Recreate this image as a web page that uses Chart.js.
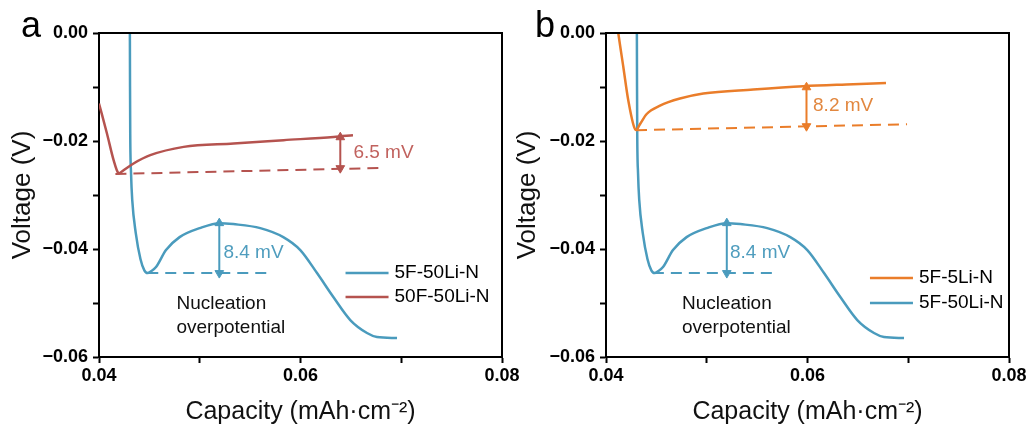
<!DOCTYPE html>
<html>
<head>
<meta charset="utf-8">
<script src="https://cdn.jsdelivr.net/npm/chart.js@4.4.0/dist/chart.umd.min.js"></script>
<style>
  html, body { margin: 0; padding: 0; background: #fff; }
  #wrap { position: relative; width: 1032px; height: 432px; overflow: hidden; }
  canvas { position: absolute; top: 0; }
</style>
</head>
<body>
<div id="wrap">
  <canvas id="chartA" width="532" height="432" style="left:0"></canvas>
  <canvas id="chartB" width="532" height="432" style="left:500px"></canvas>
</div>
<script>
// Voltage profiles (capacity in mAh/cm2, voltage in V)
const blueCap  = [0.04306, 0.04308, 0.04310, 0.04318, 0.04330, 0.04365, 0.04412, 0.04450, 0.04482,
                  0.04515, 0.04566, 0.04665, 0.04800, 0.05000, 0.05200, 0.05333, 0.05601, 0.05829,
                  0.05998, 0.06164, 0.06326, 0.06494, 0.06660, 0.06759, 0.06958];
const blueVolt = [0.00300, -0.01000, -0.01856, -0.02596, -0.03095, -0.03706, -0.04190, -0.04395, -0.04446,
                  -0.04415, -0.04335, -0.04020, -0.03780, -0.03613, -0.03521, -0.03539, -0.03613, -0.03780,
                  -0.04020, -0.04446, -0.04890, -0.05316, -0.05556, -0.05630, -0.05649];

const redCap   = [0.04000, 0.04079, 0.04145, 0.04190, 0.04200, 0.04244, 0.04343, 0.04509, 0.04840,
                  0.05336, 0.05832, 0.06329, 0.06521];
const redVolt  = [-0.01306, -0.01861, -0.02355, -0.02590, -0.02598, -0.02540, -0.02416, -0.02263, -0.02109,
                  -0.02046, -0.01985, -0.01924, -0.01893];

const orangeCap  = [0.04115, 0.04122, 0.04172, 0.04221, 0.04292, 0.04300, 0.04337, 0.04404, 0.04536,
                    0.04734, 0.04966, 0.05462, 0.05958, 0.06455, 0.06779];
const orangeVolt = [0.00100, 0.00000, -0.00629, -0.01245, -0.01790, -0.01795, -0.01690, -0.01500, -0.01345,
                    -0.01214, -0.01121, -0.01047, -0.00986, -0.00949, -0.00925];

// guide lines: [x1, y1, x2, y2]
const redBase    = [0.04163, -0.02610, 0.06822, -0.02499];
const orangeBase = [0.04298, -0.01800, 0.06988, -0.01689];
const blueBaseA  = [0.04479, -0.04446, 0.05670, -0.04446];
const blueBaseB  = [0.04465, -0.04446, 0.05677, -0.04446];
// arrows: [x, top, bottom]
const redArrow    = [0.06395, -0.01930, -0.02503];
const orangeArrow = [0.05990, -0.01005, -0.01726];
const blueArrowA  = [0.05194, -0.03521, -0.04446];
const blueArrowB  = [0.05199, -0.03521, -0.04446];

const xRange = [0.04, 0.08];
const yRange = [-0.06, 0];

const BLUE = '#4a9bbd', RED = '#b5534f', ORANGE = '#ea7d2a';
const FONT = '"Liberation Sans", Arial, sans-serif';

function pts(xs, ys) {
  return xs.map((x, i) => ({ x: x, y: ys[i] }));
}

function curve(label, xs, ys, color) {
  return {
    label: label, data: pts(xs, ys), borderColor: color, borderWidth: 2.5,
    pointRadius: 0, cubicInterpolationMode: 'monotone', fill: false
  };
}

function dashed(seg, color) {
  return {
    data: [{ x: seg[0], y: seg[1] }, { x: seg[2], y: seg[3] }],
    borderColor: color, borderWidth: 2, borderDash: [11, 7], pointRadius: 0, fill: false
  };
}

function arrow(a, color) {
  return {
    data: [{ x: a[0], y: a[1] }, { x: a[0], y: a[2] }],
    borderColor: color, borderWidth: 2, pointStyle: 'triangle', pointRadius: 5,
    pointRotation: [0, 180], pointBackgroundColor: color, pointBorderColor: color,
    pointBorderWidth: 1, fill: false
  };
}

// frame, panel letter, notes and legend
const decor = {
  id: 'decor',
  afterDraw(chart, args, opts) {
    const { ctx, chartArea: a, scales: { x, y } } = chart;
    ctx.save();
    ctx.strokeStyle = '#000';
    ctx.lineWidth = 2;
    ctx.beginPath();
    ctx.moveTo(a.left, a.top);
    ctx.lineTo(a.right, a.top);
    ctx.lineTo(a.right, a.bottom);
    ctx.stroke();

    ctx.fillStyle = '#000';
    ctx.font = '36px ' + FONT;
    ctx.textAlign = 'center';
    ctx.textBaseline = 'alphabetic';
    ctx.fillText(opts.letter, opts.letterX, 37);

    ctx.textAlign = 'left';
    ctx.textBaseline = 'middle';
    ctx.font = '19px ' + FONT;
    opts.notes.forEach(n => {
      ctx.fillStyle = n.color;
      ctx.fillText(n.text, x.getPixelForValue(n.x), y.getPixelForValue(n.y));
    });

    const lx = x.getPixelForValue(opts.legendAt[0]);
    const ly = y.getPixelForValue(opts.legendAt[1]);
    opts.legend.forEach((item, i) => {
      const py = ly + i * opts.legendGap;
      ctx.strokeStyle = item.color;
      ctx.lineWidth = 2.5;
      ctx.beginPath();
      ctx.moveTo(lx, py);
      ctx.lineTo(lx + 43, py);
      ctx.stroke();
      ctx.fillStyle = '#000';
      ctx.fillText(item.label, lx + 49, py);
    });
    ctx.restore();
  }
};

function makePanel(id, datasets, p) {
  return new Chart(document.getElementById(id).getContext('2d'), {
    type: 'line',
    data: { datasets: datasets },
    plugins: [decor],
    options: {
      responsive: false,
      animation: false,
      devicePixelRatio: 1,
      layout: { padding: { top: 33, right: p.rightPad, bottom: 0, left: 0 } },
      plugins: {
        legend: { display: false },
        tooltip: { enabled: false },
        decor: p.decor
      },
      scales: {
        x: {
          type: 'linear', min: xRange[0], max: xRange[1],
          afterFit: s => { s.height = 75; },
          border: { color: '#000', width: 2 },
          grid: { drawOnChartArea: false, tickLength: 6, tickColor: '#000', tickWidth: 2 },
          ticks: {
            stepSize: 0.01, padding: 2, color: '#000', maxRotation: 0,
            font: { family: FONT, size: 18, weight: 'bold' },
            callback: v => (Math.round(v * 100) % 2 === 0 ? v.toFixed(2) : '')
          },
          title: {
            display: true, text: 'Capacity (mAh·cm⁻²)', color: '#111',
            font: { family: FONT, size: 25 }, padding: { top: 0, bottom: 5 }
          }
        },
        y: {
          min: yRange[0], max: yRange[1],
          afterFit: s => { s.width = p.yWidth; },
          border: { color: '#000', width: 2 },
          grid: { drawOnChartArea: false, tickLength: 6, tickColor: '#000', tickWidth: 2 },
          ticks: {
            stepSize: 0.01, padding: 5, color: '#000',
            font: { family: FONT, size: 18, weight: 'bold' },
            callback: v => {
              const k = Math.round(v * 100);
              if (k % 2 !== 0) return '';
              return k === 0 ? '0.00' : '\u2212' + Math.abs(v).toFixed(2);
            }
          },
          title: {
            display: true, text: 'Voltage (V)', color: '#111',
            font: { family: FONT, size: 26 }, padding: { top: p.yTitlePad, bottom: 0 }
          }
        }
      }
    }
  });
}

makePanel('chartA', [
  arrow(blueArrowA, BLUE),
  arrow(redArrow, RED),
  dashed(blueBaseA, BLUE),
  dashed(redBase, RED),
  curve('50F-50Li-N', redCap, redVolt, RED),
  curve('5F-50Li-N', blueCap, blueVolt, BLUE)
], {
  rightPad: 30, yWidth: 99, yTitlePad: 7,
  decor: {
    letter: 'a', letterX: 31,
    legendAt: [0.06447, -0.04446], legendGap: 24,
    legend: [{ label: '5F-50Li-N', color: BLUE }, { label: '50F-50Li-N', color: RED }],
    notes: [
      { text: '6.5 mV', x: 0.06525, y: -0.02226, color: '#c1625e' },
      { text: '8.4 mV', x: 0.05235, y: -0.04076, color: '#4f9dbe' },
      { text: 'Nucleation', x: 0.04769, y: -0.05020, color: '#111' },
      { text: 'overpotential', x: 0.04769, y: -0.05464, color: '#111' }
    ]
  }
});

makePanel('chartB', [
  arrow(blueArrowB, BLUE),
  arrow(orangeArrow, ORANGE),
  dashed(blueBaseB, BLUE),
  dashed(orangeBase, ORANGE),
  curve('5F-5Li-N', orangeCap, orangeVolt, ORANGE),
  curve('5F-50Li-N', blueCap, blueVolt, BLUE)
], {
  rightPad: 23, yWidth: 106, yTitlePad: 12,
  decor: {
    letter: 'b', letterX: 45,
    legendAt: [0.06620, -0.04539], legendGap: 25,
    legend: [{ label: '5F-5Li-N', color: ORANGE }, { label: '5F-50Li-N', color: BLUE }],
    notes: [
      { text: '8.2 mV', x: 0.06055, y: -0.01356, color: '#e2873f' },
      { text: '8.4 mV', x: 0.05231, y: -0.04076, color: '#4f9dbe' },
      { text: 'Nucleation', x: 0.04754, y: -0.05020, color: '#111' },
      { text: 'overpotential', x: 0.04754, y: -0.05464, color: '#111' }
    ]
  }
});
</script>
</body>
</html>
